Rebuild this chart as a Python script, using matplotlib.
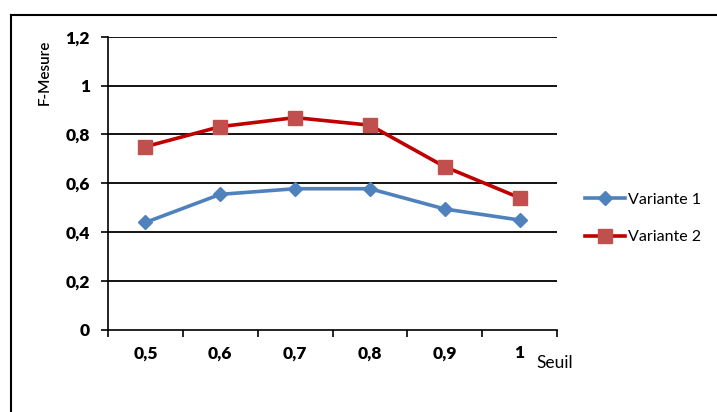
import matplotlib
matplotlib.use("Agg")
import matplotlib.pyplot as plt
from matplotlib.lines import Line2D
import numpy as np

categories = ["0,5", "0,6", "0,7", "0,8", "0,9", "1"]
variante1 = [0.44, 0.555, 0.578, 0.578, 0.495, 0.45]
variante2 = [0.75, 0.832, 0.869, 0.838, 0.668, 0.541]
yticks = [0, 0.2, 0.4, 0.6, 0.8, 1.0, 1.2]
ytick_labels = ["0", "0,2", "0,4", "0,6", "0,8", "1", "1,2"]

plt.rcParams['font.family'] = ['Lato', 'DejaVu Sans']

fig = plt.figure(figsize=(7.17, 4.12), dpi=100)
ax = fig.add_axes([108/717, (412-330)/412, (557-108)/717, (330-36.7)/412])

x = np.arange(len(categories))
ax.plot(x, variante1, color="#4F81BD", lw=2.6, marker="D", ms=7.5,
        markerfacecolor="#4F81BD", markeredgecolor="#4F81BD", zorder=3)
ax.plot(x, variante2, color="#C00000", lw=2.6, marker="s", ms=10,
        markerfacecolor="#C0504D", markeredgecolor="#C0504D", zorder=3)

ax.set_xlim(-0.5, len(categories) - 0.5)
ax.set_ylim(0, 1.2)
ax.set_yticks(yticks)
ax.set_yticklabels(ytick_labels, fontweight="heavy", fontsize=12.5)
ax.set_xticks(x)
ax.set_xticklabels(categories, fontweight="heavy", fontsize=12.5)
ax.set_xticks(np.arange(-0.5, len(categories)), minor=True)
ax.tick_params(axis="x", which="major", length=0, pad=11)
ax.tick_params(axis="x", which="minor", length=5, width=1.2, direction="out")
ax.tick_params(axis="y", which="major", length=5, width=1.2, direction="out", pad=8)

for yv in yticks[1:]:
    ax.axhline(yv, color="black", lw=1.3, zorder=1)

for s in ["top", "right"]:
    ax.spines[s].set_visible(False)
ax.spines["left"].set_linewidth(1.2)
ax.spines["bottom"].set_linewidth(1.2)

ax.set_ylabel("F-Mesure", fontsize=11, fontweight="semibold")
ax.yaxis.set_label_coords(-0.125, 0.88)
fig.text(555/717, 1 - 363/412, "Seuil", fontsize=12.5, ha="center", va="center")

handles = [
    Line2D([], [], color="#4F81BD", lw=2.6, marker="D", ms=7.5,
           markerfacecolor="#4F81BD", markeredgecolor="#4F81BD"),
    Line2D([], [], color="#C00000", lw=2.6, marker="s", ms=10,
           markerfacecolor="#C0504D", markeredgecolor="#C0504D"),
]
fig.legend(handles, ["Variante 1", "Variante 2"], loc="center left",
           bbox_to_anchor=(585/717, 1 - 218.5/412), frameon=False, fontsize=11.5,
           borderpad=0, borderaxespad=0,
           handlelength=2.5, handletextpad=0.2, labelspacing=1.45)

# outer chart border (left and top visible)
fig.add_artist(Line2D([11/717, 11/717], [0, 1 - 15/412], transform=fig.transFigure,
                      color="black", lw=1.5))
fig.add_artist(Line2D([11/717, 1], [1 - 15/412, 1 - 15/412], transform=fig.transFigure,
                      color="black", lw=1.5))

fig.savefig("out.png", dpi=100)
